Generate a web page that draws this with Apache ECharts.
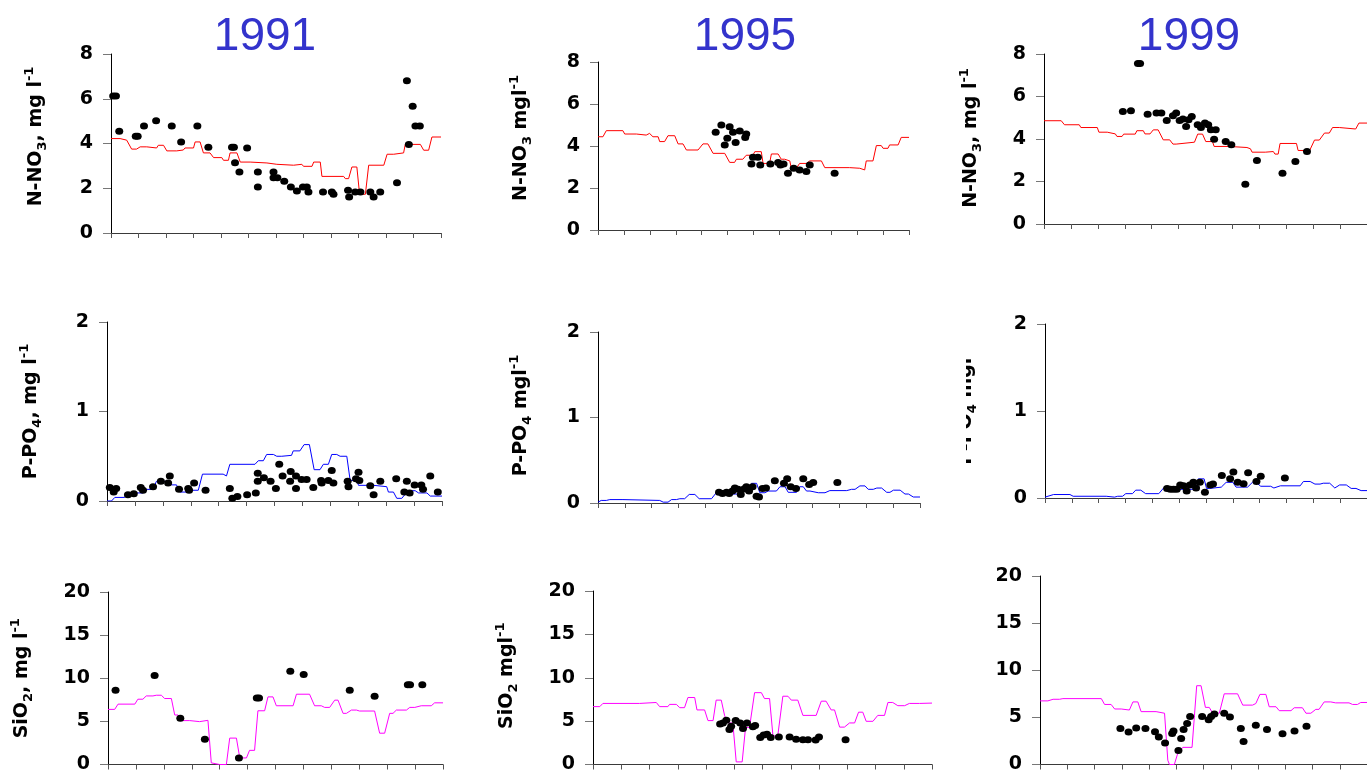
<!DOCTYPE html>
<html>
<head>
<meta charset="utf-8">
<title>Nutrients 1991 / 1995 / 1999</title>
<script src="https://cdn.jsdelivr.net/npm/echarts@6/dist/echarts.min.js"></script>
<style>
  html, body { margin: 0; padding: 0; background: #ffffff; }
  #chart { width: 1367px; height: 774px; }
</style>
</head>
<body>
<div id="chart"></div>
<script>
// ---- data: x = month of the year (0..12), y = concentration ----
const years = ['1991', '1995', '1999'];

// simulated nitrate, N-NO3 (mg/l)
const no3Model1991 = [[0,4.22],[0.33,4.22],[0.39,4.15],[0.57,4.15],[0.75,3.75],[0.93,3.75],[1.06,3.85],[1.30,3.85],[1.36,3.80],[1.66,3.80],[1.72,3.92],[1.91,3.92],[2.03,3.67],[2.39,3.67],[2.45,3.71],[2.63,3.71],[2.69,3.80],[3.00,3.80],[3.06,4.07],[3.24,4.07],[3.36,3.58],[3.60,3.58],[3.73,3.37],[4.03,3.37],[4.09,3.25],[4.27,3.25],[4.33,3.58],[4.58,3.58],[4.70,3.17],[5.06,3.17],[5.08,3.13],[5.67,3.13],[5.70,3.07],[6.03,3.07],[6.06,3.03],[6.64,3.03],[6.70,3.07],[6.94,3.07],[7.00,2.98],[7.31,2.98],[7.37,3.17],[7.61,3.17],[7.67,2.53],[8.46,2.53],[8.52,2.43],[8.64,2.43],[8.76,2.95],[8.94,2.95],[9.04,1.73],[9.25,1.73],[9.37,3.03],[9.92,3.03],[10.04,3.52],[10.28,3.52],[10.34,3.58],[10.64,3.58],[10.70,3.96],[11.25,3.96],[11.37,3.70],[11.55,3.70],[11.67,4.29],[12,4.29]];
const no3Model1995 = [[0,4.44],[0.19,4.44],[0.32,4.73],[0.96,4.73],[1.03,4.57],[1.48,4.57],[1.50,4.52],[1.86,4.52],[1.88,4.60],[1.99,4.60],[2.12,4.44],[2.32,4.44],[2.38,4.21],[2.57,4.21],[2.70,4.49],[2.96,4.49],[3.09,4.10],[3.28,4.10],[3.41,3.81],[3.86,3.81],[4.05,4.10],[4.24,4.10],[4.44,3.65],[4.89,3.65],[5.08,3.22],[5.27,3.22],[5.34,3.37],[5.59,3.37],[5.72,3.56],[5.98,3.56],[6.05,3.73],[6.30,3.73],[6.37,3.17],[6.62,3.17],[6.69,3.62],[6.95,3.62],[7.07,3.37],[7.20,3.37],[7.27,3.29],[7.40,3.29],[7.46,2.94],[7.65,2.94],[7.78,3.17],[8.04,3.17],[8.17,3.29],[8.62,3.29],[8.75,2.97],[9.71,2.97],[9.73,2.94],[10.10,2.94],[10.11,2.86],[10.29,2.86],[10.35,3.29],[10.61,3.29],[10.74,4.02],[10.93,4.02],[11.00,3.89],[11.19,3.89],[11.25,4.05],[11.58,4.05],[11.70,4.41],[12,4.41]];
const no3Model1999 = [[0,4.86],[0.64,4.86],[0.76,4.67],[1.31,4.67],[1.37,4.54],[1.98,4.54],[2.04,4.32],[2.35,4.32],[2.37,4.24],[2.65,4.24],[2.71,4.12],[2.90,4.12],[2.96,4.23],[3.39,4.23],[3.45,4.39],[3.69,4.39],[3.75,4.24],[3.94,4.24],[4.06,4.43],[4.24,4.43],[4.43,3.96],[4.67,3.96],[4.79,3.76],[4.91,3.76],[4.98,3.85],[5.59,3.85],[5.71,4.23],[5.89,4.23],[6.01,3.88],[6.26,3.88],[6.32,3.65],[6.87,3.65],[6.93,3.60],[7.54,3.60],[7.60,3.54],[7.67,3.54],[7.73,3.38],[8.22,3.38],[8.28,3.41],[8.52,3.41],[8.58,3.29],[8.70,3.29],[8.77,3.79],[9.38,3.79],[9.44,3.46],[9.87,3.46],[10.05,3.95],[10.23,3.95],[10.42,4.28],[10.60,4.28],[10.72,4.54],[10.97,4.54],[11.03,4.47],[11.58,4.47],[11.70,4.75],[12,4.75]];

// measured nitrate
const no3Obs1991 = [[0.08,6.12],[0.18,6.12],[0.30,4.55],[0.90,4.32],[0.97,4.32],[1.20,4.78],[1.64,5.02],[2.21,4.78],[2.55,4.07],[3.14,4.78],[3.54,3.83],[4.40,3.83],[4.47,3.83],[4.51,3.14],[4.67,2.73],[4.95,3.80],[5.34,2.73],[5.34,2.06],[5.91,2.73],[5.91,2.47],[6.05,2.47],[6.30,2.31],[6.54,2.06],[6.76,1.88],[6.98,2.06],[7.12,2.06],[7.18,1.83],[7.71,1.83],[8.03,1.83],[8.09,1.73],[8.62,1.91],[8.66,1.61],[8.88,1.83],[9.07,1.83],[9.43,1.83],[9.55,1.61],[9.79,1.83],[10.40,2.25],[10.76,6.80],[10.83,3.96],[10.97,5.66],[11.07,4.78],[11.23,4.78]];
const no3Obs1995 = [[4.54,4.65],[4.76,5.00],[4.89,4.05],[4.99,4.37],[5.08,4.92],[5.21,4.65],[5.31,4.17],[5.47,4.71],[5.68,4.41],[5.72,4.57],[5.92,3.14],[5.98,3.46],[6.17,3.46],[6.26,3.10],[6.65,3.14],[6.95,3.22],[7.04,3.10],[7.16,3.14],[7.33,2.70],[7.55,2.94],[7.78,2.86],[8.04,2.78],[8.17,3.10],[9.13,2.70]];
const no3Obs1999 = [[2.93,5.30],[3.23,5.33],[3.49,7.55],[3.57,7.55],[3.85,5.17],[4.18,5.22],[4.36,5.22],[4.56,4.87],[4.79,5.09],[4.91,5.22],[5.04,4.87],[5.16,4.94],[5.28,4.59],[5.37,4.91],[5.49,5.06],[5.71,4.67],[5.83,4.54],[5.98,4.75],[6.10,4.67],[6.20,4.43],[6.32,3.99],[6.38,4.43],[6.75,3.88],[6.96,3.73],[7.48,1.87],[7.91,2.99],[8.86,2.39],[9.34,2.94],[9.77,3.41]];

// simulated phosphate, P-PO4 (mg/l)
const po4Model1991 = [[0,0],[0.16,0],[0.28,0.04],[0.63,0.04],[0.75,0.09],[1.29,0.09],[1.41,0.13],[1.65,0.13],[1.77,0.22],[2.25,0.22],[2.31,0.18],[2.49,0.18],[2.61,0.10],[2.91,0.10],[3.03,0.12],[3.27,0.12],[3.42,0.30],[4.16,0.30],[4.22,0.28],[4.28,0.28],[4.40,0.41],[5.30,0.41],[5.42,0.45],[5.60,0.45],[5.72,0.52],[5.96,0.52],[6.08,0.50],[6.26,0.50],[6.32,0.51],[6.61,0.51],[6.67,0.56],[6.91,0.56],[7.06,0.63],[7.25,0.63],[7.42,0.35],[7.63,0.35],[7.75,0.41],[7.93,0.41],[8.05,0.52],[8.23,0.52],[8.35,0.50],[8.59,0.50],[8.71,0.23],[8.95,0.23],[9.01,0.175],[9.55,0.175],[9.61,0.16],[10.02,0.16],[10.08,0.10],[10.26,0.10],[10.38,0.03],[10.56,0.03],[10.68,0.075],[10.74,0.115],[11.04,0.115],[11.16,0.09],[11.46,0.09],[11.58,0.055],[12,0.055]];
const po4Model1995 = [[0,0.01],[0.12,0.03],[0.31,0.03],[0.44,0.04],[0.93,0.04],[1.00,0.03],[2.30,0.03],[2.43,0.01],[2.61,0.01],[2.74,0.04],[2.92,0.04],[3.05,0.05],[3.23,0.05],[3.40,0.10],[3.61,0.10],[3.77,0.05],[4.23,0.05],[4.42,0.125],[4.66,0.125],[4.79,0.105],[5.29,0.105],[5.47,0.15],[5.66,0.15],[5.72,0.23],[5.91,0.23],[6.03,0.12],[6.22,0.12],[6.34,0.14],[6.65,0.14],[6.78,0.19],[6.97,0.19],[7.09,0.125],[7.40,0.125],[7.52,0.19],[7.65,0.19],[7.77,0.14],[7.90,0.14],[8.21,0.12],[8.46,0.12],[8.64,0.145],[9.27,0.145],[9.45,0.16],[9.58,0.16],[9.76,0.20],[9.95,0.20],[10.07,0.16],[10.26,0.16],[10.39,0.175],[10.57,0.175],[10.76,0.125],[10.88,0.125],[11.01,0.15],[11.26,0.15],[11.44,0.105],[11.57,0.105],[11.75,0.07],[12,0.07]];
const po4Model1999 = [[0,0.01],[0.32,0.04],[0.93,0.04],[1.05,0.02],[2.28,0.02],[2.34,0.01],[2.59,0.01],[2.71,0.02],[2.89,0.02],[3.01,0.05],[3.26,0.05],[3.38,0.09],[3.57,0.09],[3.75,0.05],[4.24,0.05],[4.42,0.115],[4.73,0.115],[4.85,0.10],[5.65,0.10],[5.71,0.22],[5.93,0.22],[6.02,0.11],[6.14,0.11],[6.20,0.125],[6.57,0.125],[6.75,0.18],[7.00,0.18],[7.12,0.125],[7.55,0.125],[7.73,0.18],[7.86,0.18],[8.04,0.135],[8.41,0.135],[8.53,0.115],[8.77,0.14],[9.51,0.14],[9.63,0.19],[9.88,0.19],[10.06,0.16],[10.25,0.16],[10.37,0.17],[10.61,0.17],[10.80,0.115],[10.98,0.15],[11.23,0.15],[11.41,0.11],[11.59,0.11],[11.78,0.085],[12,0.085]];

// measured phosphate
const po4Obs1991 = [[0.10,0.15],[0.24,0.10],[0.33,0.14],[0.75,0.07],[0.96,0.08],[1.21,0.15],[1.29,0.12],[1.65,0.16],[1.93,0.22],[2.19,0.20],[2.25,0.28],[2.58,0.13],[2.91,0.14],[2.94,0.12],[3.12,0.20],[3.53,0.12],[4.40,0.14],[4.49,0.03],[4.67,0.05],[5.02,0.07],[5.33,0.09],[5.40,0.31],[5.40,0.22],[5.62,0.26],[5.86,0.22],[6.05,0.14],[6.17,0.41],[6.29,0.28],[6.56,0.22],[6.58,0.33],[6.77,0.28],[6.77,0.14],[6.97,0.24],[7.15,0.24],[7.39,0.15],[7.67,0.23],[7.69,0.20],[7.93,0.23],[8.05,0.34],[8.11,0.20],[8.62,0.22],[8.65,0.16],[8.92,0.25],[9.01,0.32],[9.04,0.23],[9.43,0.17],[9.55,0.07],[9.79,0.22],[10.36,0.25],[10.65,0.10],[10.74,0.22],[10.84,0.09],[11.02,0.18],[11.26,0.18],[11.32,0.13],[11.58,0.28],[11.85,0.10]];
const po4Obs1995 = [[4.51,0.125],[4.64,0.11],[4.79,0.125],[4.89,0.11],[5.01,0.14],[5.10,0.175],[5.22,0.16],[5.32,0.10],[5.44,0.165],[5.53,0.19],[5.63,0.14],[5.76,0.19],[5.91,0.08],[6.00,0.07],[6.13,0.17],[6.26,0.175],[6.59,0.26],[6.93,0.23],[7.05,0.285],[7.18,0.19],[7.38,0.17],[7.65,0.285],[7.87,0.215],[8.02,0.24],[8.92,0.24]];
const po4Obs1999 = [[4.55,0.11],[4.67,0.10],[4.79,0.10],[4.91,0.10],[5.04,0.15],[5.16,0.14],[5.28,0.08],[5.40,0.15],[5.53,0.18],[5.63,0.115],[5.77,0.18],[5.96,0.065],[6.16,0.15],[6.26,0.16],[6.59,0.26],[6.90,0.22],[7.02,0.30],[7.18,0.18],[7.40,0.165],[7.57,0.29],[7.88,0.19],[8.04,0.25],[8.94,0.23]];

// simulated silica, SiO2 (mg/l)
const sioModel1991 = [[0,6.39],[0.24,6.39],[0.36,7.00],[0.96,7.00],[1.07,7.57],[1.25,7.57],[1.37,7.95],[1.61,7.95],[1.73,8.03],[1.91,8.03],[2.03,7.65],[2.27,7.65],[2.39,5.74],[2.51,5.74],[2.63,5.09],[2.93,5.09],[2.99,4.97],[3.28,4.97],[3.34,5.12],[3.58,5.12],[3.70,0.19],[4.00,0],[4.24,0],[4.36,3.06],[4.60,3.06],[4.72,0.76],[4.96,0.76],[5.07,1.64],[5.25,1.64],[5.37,6.23],[5.61,6.23],[5.73,7.84],[5.91,7.84],[6.03,6.81],[6.63,6.81],[6.75,8.15],[7.22,8.15],[7.40,6.81],[7.64,6.81],[7.76,6.62],[7.94,6.62],[8.12,7.46],[8.24,7.46],[8.42,5.93],[8.54,5.93],[8.72,6.31],[8.90,6.31],[9.01,6.20],[9.55,6.20],[9.73,3.63],[9.91,3.63],[10.09,5.93],[10.21,5.93],[10.33,6.31],[10.69,6.31],[10.81,6.62],[10.99,6.62],[11.22,6.81],[11.58,6.81],[11.70,7.15],[12,7.15]];
const sioModel1995 = [[0,6.67],[0.24,6.67],[0.35,7.04],[1.65,7.04],[1.71,7.15],[2.24,7.15],[2.36,6.67],[2.65,6.67],[2.71,6.93],[2.95,6.93],[3.07,6.55],[3.24,6.55],[3.36,7.72],[3.60,7.72],[3.68,6.29],[3.95,6.29],[4.07,5.06],[4.25,5.06],[4.36,7.42],[4.54,7.42],[4.66,5.62],[4.72,5.62],[4.78,4.79],[4.95,4.79],[5.07,0.30],[5.28,0.30],[5.40,4.27],[5.54,4.27],[5.72,8.28],[5.96,8.28],[6.07,7.60],[6.25,7.60],[6.37,3.30],[6.54,3.30],[6.72,7.87],[6.90,7.87],[7.02,7.42],[7.25,7.42],[7.43,5.66],[7.90,5.66],[8.08,7.30],[8.25,7.30],[8.43,6.29],[8.55,6.29],[8.73,4.31],[8.90,4.31],[9.08,4.79],[9.26,4.79],[9.40,6.03],[9.55,6.03],[9.67,4.98],[9.91,4.98],[10.08,5.66],[10.32,5.66],[10.44,7.15],[10.61,7.15],[10.79,6.78],[11.03,6.78],[11.20,7.04],[11.56,7.04],[12,7.08]];
const sioModel1999 = [[0,6.75],[0.29,6.75],[0.48,6.92],[0.72,6.92],[0.84,6.99],[2.25,6.99],[2.37,6.37],[2.61,6.37],[2.74,5.89],[2.98,5.89],[3.04,5.78],[3.28,5.78],[3.41,6.64],[3.59,6.64],[3.71,5.61],[4.26,5.61],[4.32,5.44],[4.57,5.44],[4.69,0.45],[4.75,0],[4.93,0],[5.05,1.14],[5.24,1.82],[5.58,1.82],[5.75,8.36],[5.91,8.36],[6.07,6.06],[6.21,6.06],[6.34,5.44],[6.58,5.44],[6.76,7.50],[7.25,7.50],[7.44,6.30],[7.80,6.30],[7.92,6.47],[8.07,7.44],[8.29,7.44],[8.41,6.13],[8.66,6.13],[8.78,5.71],[9.21,5.71],[9.33,6.02],[9.63,6.02],[9.76,5.44],[9.94,5.44],[10.12,5.85],[10.24,5.85],[10.43,6.64],[10.67,6.64],[10.85,6.54],[11.34,6.54],[11.47,6.37],[11.65,6.37],[11.77,6.58],[12,6.58]];

// measured silica
const sioObs1991 = [[0.27,8.60],[1.67,10.33],[2.59,5.35],[3.47,2.94],[4.69,0.76],[5.33,7.72],[5.41,7.72],[6.53,10.82],[7.01,10.44],[8.66,8.60],[9.55,7.92],[10.74,9.25],[10.82,9.25],[11.26,9.25]];
const sioObs1995 = [[4.50,4.68],[4.60,4.79],[4.72,5.09],[4.83,4.04],[4.89,4.42],[5.05,5.06],[5.21,4.79],[5.31,4.16],[5.45,4.79],[5.66,4.34],[5.74,4.49],[5.92,3.11],[6.04,3.41],[6.16,3.48],[6.29,3.11],[6.58,3.18],[6.96,3.18],[7.19,2.92],[7.43,2.85],[7.61,2.85],[7.88,2.81],[8.00,3.18],[8.94,2.85]];
const sioObs1999 = [[2.95,3.82],[3.25,3.44],[3.53,3.86],[3.87,3.82],[4.22,3.48],[4.36,2.93],[4.59,2.27],[4.85,3.30],[4.90,3.55],[5.08,1.48],[5.18,2.75],[5.27,3.72],[5.40,4.34],[5.51,5.09],[5.95,5.09],[6.19,4.75],[6.28,5.09],[6.40,5.37],[6.76,5.44],[6.97,5.03],[7.37,3.82],[7.47,2.44],[7.92,4.17],[8.33,3.72],[8.90,3.27],[9.34,3.55],[9.78,4.06]];

// y-axis scales per row
const no3Scale = { max: 8, interval: 2 };
const po4Scale = { max: 2, interval: 1 };
const sioScale = { max: 20, interval: 5 };

// ---- layout of the 3 x 3 panels (pixels) ----
const FONT = '"DejaVu Sans", "Liberation Sans", sans-serif';
const panels = [
  { box: [111, 54, 330, 179],  scale: no3Scale, model: no3Model1991, obs: no3Obs1991, color: '#ff0000', name: '{a|N-NO}{s|3}{a|, mg l}{p|-1}', gap: 62, shift: 14 },
  { box: [598, 62, 311, 168],  scale: no3Scale, model: no3Model1995, obs: no3Obs1995, color: '#ff0000', name: '{a|N-NO}{s|3}{a| mgl}{p|-1}', gap: 64, shift: 16 },
  { box: [1044, 54, 328, 170], scale: no3Scale, model: no3Model1999, obs: no3Obs1999, color: '#ff0000', name: '{a|N-NO}{s|3}{a|, mg l}{p|-1}', gap: 60, shift: 2 },
  { box: [107, 322, 335, 179], scale: po4Scale, model: po4Model1991, obs: po4Obs1991, color: '#0000ff', name: '{a|P-PO}{s|4}{a|, mg l}{p|-1}', gap: 63, shift: 0 },
  { box: [598, 332, 322, 171], scale: po4Scale, model: po4Model1995, obs: po4Obs1995, color: '#0000ff', name: '{a|P-PO}{s|4}{a| mgl}{p|-1}', gap: 64, shift: 4 },
  { box: [1045, 324, 327, 174], scale: po4Scale, model: po4Model1999, obs: po4Obs1999, color: '#0000ff', name: '{a|P-PO}{s|4}{a| mgl}{p|-1}', gap: 66, shift: 14 },
  { box: [108, 592, 335, 175], scale: sioScale, model: sioModel1991, obs: sioObs1991, color: '#ff00ff', name: '{a|SiO}{s|2}{a|, mg l}{p|-1}', gap: 73, shift: 0 },
  { box: [593, 591, 339, 178], scale: sioScale, model: sioModel1995, obs: sioObs1995, color: '#ff00ff', name: '{a|SiO}{s|2}{a| mgl}{p|-1}', gap: 73, shift: 4 },
  { box: [1040, 576, 328, 193], scale: sioScale, model: sioModel1999, obs: sioObs1999, color: '#ff00ff', name: '', gap: 70, shift: 0 }
];
const titleX = [265, 745, 1189];

const nameRich = {
  a: { fontFamily: FONT, fontWeight: 'bold', fontSize: 19, color: '#000', lineHeight: 26 },
  s: { fontFamily: FONT, fontWeight: 'bold', fontSize: 13, color: '#000', verticalAlign: 'bottom', lineHeight: 15 },
  p: { fontFamily: FONT, fontWeight: 'bold', fontSize: 13, color: '#000', verticalAlign: 'top', lineHeight: 15 }
};

const grid = [], xAxis = [], yAxis = [], series = [];
panels.forEach((p, i) => {
  grid.push({ left: p.box[0], top: p.box[1], width: p.box[2], height: p.box[3], containLabel: false });
  xAxis.push({
    gridIndex: i, type: 'value', min: 0, max: 12, interval: 1,
    axisLine: { show: true, onZero: false, lineStyle: { color: '#3a3a3a', width: 1 } },
    axisTick: { show: true, inside: false, length: 5, lineStyle: { color: '#555' } },
    axisLabel: { show: false },
    splitLine: { show: false }
  });
  yAxis.push({
    gridIndex: i, type: 'value', min: 0, max: p.scale.max, interval: p.scale.interval,
    axisLine: { show: true, lineStyle: { color: '#000', width: 1 } },
    axisTick: { show: true, inside: false, length: 8, lineStyle: { color: '#777' } },
    axisLabel: { margin: 18, fontFamily: FONT, fontWeight: 'bold', fontSize: 19, color: '#000' },
    splitLine: { show: false },
    name: p.name, nameLocation: 'middle', nameRotate: 90, nameGap: p.gap,
    nameTextStyle: { rich: nameRich, padding: [0, 0, 0, p.shift] }
  });
  series.push({
    type: 'line', xAxisIndex: i, yAxisIndex: i, data: p.model,
    symbol: 'none', showSymbol: false, smooth: false,
    lineStyle: { color: p.color, width: 1 }, z: 2, silent: true
  });
  series.push({
    type: 'scatter', xAxisIndex: i, yAxisIndex: i, data: p.obs,
    symbol: 'circle', symbolSize: [8, 7],
    itemStyle: { color: '#000', opacity: 1 }, z: 3, silent: true
  });
});

// year headings over the three columns, and the mask that trims the 1999 phosphate label
const graphic = years.map((y, k) => ({
  type: 'text', x: titleX[k], y: 37, z: 10,
  style: { text: y, fontFamily: '"Liberation Sans", Arial, sans-serif', fontSize: 46, fill: '#3333cc', align: 'center', verticalAlign: 'middle' }
}));
graphic.push({ type: 'rect', shape: { x: 930, y: 335, width: 36, height: 150 }, style: { fill: '#ffffff' }, z: 100 });

const chart = echarts.init(document.getElementById('chart'), null, { renderer: 'canvas' });
chart.setOption({
  animation: false,
  backgroundColor: '#ffffff',
  grid, xAxis, yAxis, series, graphic
});
</script>
</body>
</html>
